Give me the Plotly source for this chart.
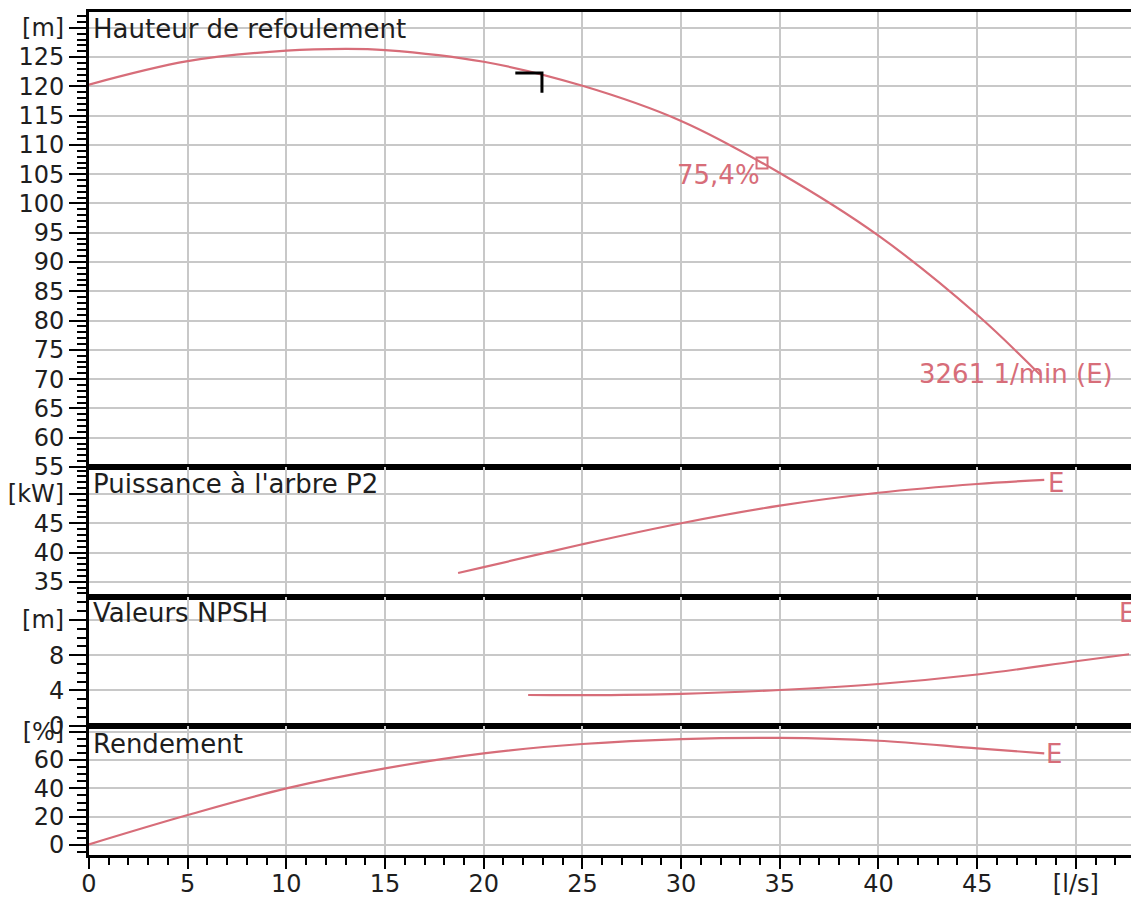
import plotly.graph_objects as go
from plotly.subplots import make_subplots

# ---------------- data ----------------
head_q = [0, 5, 10, 13, 15, 20, 25, 30, 35, 40, 45, 48.2]
head_h = [120.3, 124.3, 126.1, 126.4, 126.2, 124.2, 120.1, 114.1, 105.2, 94.5, 81.0, 70.7]

power_q = [18.7, 20, 25, 30, 35, 40, 45, 48.4]
power_p = [36.5, 37.5, 41.4, 45.0, 48.0, 50.2, 51.7, 52.4]

npsh_q = [22.25, 25, 30, 35, 40, 45, 50, 52.7]
npsh_v = [3.47, 3.45, 3.6, 4.04, 4.72, 5.8, 7.3, 8.1]

eff_q = [0, 5, 10, 15, 20, 25, 30, 35, 40, 45, 48.4]
eff_v = [0.5, 21.2, 40.0, 54.1, 64.7, 71.3, 74.8, 75.6, 73.6, 68.2, 64.7]

bep_q = [34.1]
bep_h = [106.9]
bep_label = "75,4%"
speed_label = "3261 1/min (E)"

marker_q = [21.6, 22.95, 22.95]
marker_h = [122.3, 122.3, 118.9]

x_tickvals = [0, 5, 10, 15, 20, 25, 30, 35, 40, 45, 50]
x_ticktext = ["0", "5", "10", "15", "20", "25", "30", "35", "40", "45", "[l/s]"]

head_tickvals = [55, 60, 65, 70, 75, 80, 85, 90, 95, 100, 105, 110, 115, 120, 125, 130]
head_ticktext = ["55", "60", "65", "70", "75", "80", "85", "90", "95", "100", "105",
                 "110", "115", "120", "125", "[m]"]
power_tickvals = [35, 40, 45, 50]
power_ticktext = ["35", "40", "45", "[kW]"]
npsh_tickvals = [0, 4, 8, 12]
npsh_ticktext = ["0", "4", "8", "[m]"]
eff_tickvals = [0, 20, 40, 60, 80]
eff_ticktext = ["0", "20", "40", "60", "[%]"]

panel_titles = ["Hauteur de refoulement", "Puissance à l'arbre P2", "Valeurs NPSH", "Rendement"]

# ---------------- style ----------------
CURVE = "#d76d79"
GRID = "#c8c8c8"
FONT = "DejaVu Sans"
TXT = "#1e1e1e"
XMAX = 53.2

fig = make_subplots(rows=4, cols=1, shared_xaxes=True, vertical_spacing=0,
                    row_heights=[455, 130, 129, 129])

line = dict(color=CURVE, width=2.2, shape="spline", smoothing=1.0)
fig.add_trace(go.Scatter(x=head_q, y=head_h, mode="lines", line=line), row=1, col=1)
fig.add_trace(go.Scatter(x=marker_q, y=marker_h, mode="lines",
                         line=dict(color="black", width=3)), row=1, col=1)
fig.add_trace(go.Scatter(x=bep_q, y=bep_h, mode="markers",
                         marker=dict(symbol="square-open", size=11, color=CURVE,
                                     line=dict(width=2, color=CURVE))), row=1, col=1)
fig.add_trace(go.Scatter(x=power_q, y=power_p, mode="lines", line=line), row=2, col=1)
fig.add_trace(go.Scatter(x=npsh_q, y=npsh_v, mode="lines", line=line), row=3, col=1)
fig.add_trace(go.Scatter(x=eff_q, y=eff_v, mode="lines", line=line), row=4, col=1)

tickfont = dict(family=FONT, size=24, color=TXT)

for r in range(1, 5):
    fig.update_xaxes(range=[0, XMAX], tickmode="array", tickvals=x_tickvals,
                     ticktext=x_ticktext, showgrid=True, gridcolor=GRID, gridwidth=1.5,
                     zeroline=False, showline=True, linecolor="black", linewidth=2.5,
                     mirror=True, automargin=False, row=r, col=1)
for r in range(1, 4):
    fig.update_xaxes(ticks="", showticklabels=False, row=r, col=1)
fig.update_xaxes(ticks="outside", ticklen=11, tickwidth=2, tickcolor="black",
                 showticklabels=True, tickfont=tickfont, ticklabelstandoff=-6,
                 minor=dict(ticks="outside", ticklen=7, tickwidth=2, tickcolor="black",
                            tickmode="linear", tick0=0, dtick=1, showgrid=False),
                 row=4, col=1)

yspecs = [
    (1, [55, 132.7], head_tickvals, head_ticktext, 1),
    (2, [32.4, 54.6], power_tickvals, power_ticktext, 1),
    (3, [-0.05, 14.6], npsh_tickvals, npsh_ticktext, 1),
    (4, [-7, 84], eff_tickvals, eff_ticktext, 5),
]
for r, rng, tv, tt, mdt in yspecs:
    fig.update_yaxes(range=rng, tickmode="array", tickvals=tv, ticktext=tt,
                     showgrid=True, gridcolor=GRID, gridwidth=1.5, zeroline=False,
                     showline=True, linecolor="black", linewidth=3, mirror=False,
                     ticks="outside", ticklen=17, tickwidth=2, tickcolor="black",
                     tickfont=tickfont, automargin=False,
                     minor=dict(ticks="outside", ticklen=9, tickwidth=2, tickcolor="black",
                                tickmode="linear", tick0=0, dtick=mdt, showgrid=False),
                     row=r, col=1)

# panel titles (paper coords: plot area spans y 12..855 px on screen)
title_y = [29, 484, 613, 744]
for t, py in zip(panel_titles, title_y):
    fig.add_annotation(text=t, xref="paper", yref="paper", x=0.002,
                       y=(855 - py) / 843, xanchor="left", yanchor="middle",
                       showarrow=False, font=dict(family=FONT, size=26, color=TXT))

curve_font = dict(family=FONT, size=26, color=CURVE)
fig.add_annotation(text=bep_label, x=34.1, y=104.9, xref="x", yref="y",
                   xanchor="right", yanchor="middle", showarrow=False, font=curve_font)
fig.add_annotation(text=speed_label, x=46.96, y=70.9, xref="x", yref="y",
                   xanchor="center", yanchor="middle", showarrow=False, font=curve_font)
fig.add_annotation(text="E", x=48.5, y=51.9, xref="x2", yref="y2",
                   xanchor="left", yanchor="middle", showarrow=False, font=curve_font)
fig.add_annotation(text="E", x=52.1 / XMAX, y=12.8, xref="paper", yref="y3",
                   xanchor="left", yanchor="middle", showarrow=False, font=curve_font)
fig.add_annotation(text="E", x=48.4, y=64.2, xref="x4", yref="y4",
                   xanchor="left", yanchor="middle", showarrow=False, font=curve_font)

# the page body adds an 8 px offset; size the figure so the plot lands where the reference has it
fig.update_layout(width=1131, height=889, showlegend=False,
                  margin=dict(l=81, r=0, t=4, b=42),
                  paper_bgcolor="white", plot_bgcolor="white",
                  font=dict(family=FONT, color=TXT))

fig.write_html("out.html")
